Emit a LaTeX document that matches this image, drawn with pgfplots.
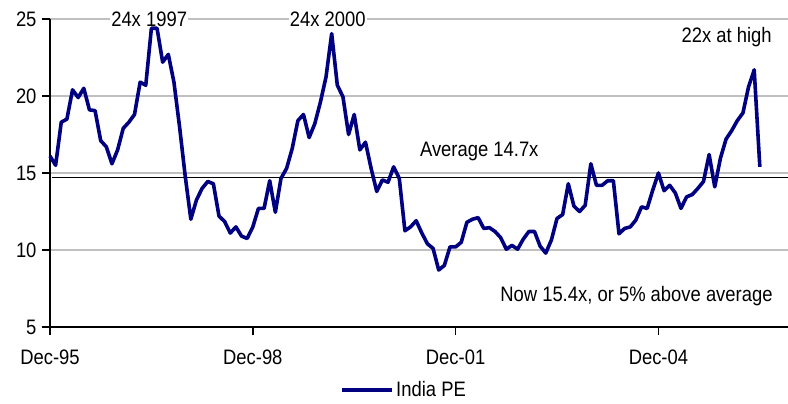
\documentclass[border=0pt]{standalone}
\usepackage{fontspec}
\setmainfont{Liberation Sans}[FakeStretch=0.88]
\usepackage{pgfplots}
\pgfplotsset{compat=1.18}
\definecolor{pecolor}{HTML}{000080}
\definecolor{gridgray}{HTML}{C0C0C0}
\newcommand{\chartfont}{\fontsize{21}{25}\selectfont}

% Monthly India price/earnings ratio, month 0 = Dec-95
\pgfplotstableread{
m pe
0 16.1
1 15.5
2 18.3
3 18.5
4 20.4
5 19.9
6 20.5
7 19.1
8 19.05
9 17.1
10 16.7
11 15.6
12 16.5
13 17.9
14 18.3
15 18.8
16 20.9
17 20.7
18 24.4
19 24.4
20 22.2
21 22.7
22 20.9
23 18.0
24 14.8
25 12.0
26 13.25
27 14.0
28 14.45
29 14.3
30 12.2
31 11.85
32 11.1
33 11.5
34 10.9
35 10.75
36 11.5
37 12.7
38 12.7
39 14.5
40 12.45
41 14.65
42 15.3
43 16.6
44 18.4
45 18.8
46 17.3
47 18.2
48 19.6
49 21.25
50 24.05
51 20.7
52 19.95
53 17.5
54 18.8
55 16.5
56 17.0
57 15.3
58 13.8
59 14.55
60 14.4
61 15.4
62 14.65
63 11.25
64 11.5
65 11.9
66 11.1
67 10.4
68 10.1
69 8.7
70 9.0
71 10.2
72 10.2
73 10.5
74 11.8
75 12.0
76 12.1
77 11.4
78 11.45
79 11.2
80 10.8
81 10.05
82 10.3
83 10.05
84 10.7
85 11.2
86 11.2
87 10.25
88 9.8
89 10.65
90 12.05
91 12.3
92 14.3
93 12.85
94 12.5
95 12.9
96 15.6
97 14.2
98 14.2
99 14.5
100 14.5
101 11.05
102 11.4
103 11.5
104 11.95
105 12.8
106 12.7
107 13.9
108 15.0
109 13.85
110 14.2
111 13.7
112 12.7
113 13.45
114 13.6
115 14.0
116 14.45
117 16.2
118 14.1
119 15.95
120 17.2
121 17.75
122 18.4
123 18.9
124 20.6
125 21.7
126 15.4
}\pedata

\begin{document}
\begin{tikzpicture}
\begin{axis}[
  name=ax,
  scale only axis,
  width=738bp, height=308bp,
  xmin=0, xmax=131,
  ymin=5, ymax=25,
  axis x line=bottom, axis y line=left,
  axis line style={-, black, line width=1.4bp},
  xtick={0,36,72,108},
  xticklabels={Dec-95,Dec-98,Dec-01,Dec-04},
  ytick={5,10,15,20,25},
  tick align=outside,
  major tick length=8bp,
  tick style={black, line width=1.4bp},
  ymajorgrids,
  major grid style={gridgray, line width=1.5bp},
  /pgf/number format/assume math mode=true,
  tick label style={font=\chartfont},
  yticklabel style={anchor=east, xshift=-2bp},
  xticklabel style={anchor=north, yshift=-11bp},
  clip=false,
  legend style={draw=none, fill=none, at={(0.48,-0.2045)}, anchor=center,
    font=\chartfont},
  legend image code/.code={\draw[#1] (0bp,0bp) -- (50bp,0bp);},
]
% peak labels sit on white patches over the gridline, beneath the series
\node[font=\chartfont, anchor=base, fill=white, inner sep=1bp] at (axis cs:17.6,24.5) {24x 1997};
\node[font=\chartfont, anchor=base, fill=white, inner sep=1bp] at (axis cs:49.3,24.5) {24x 2000};
% long-run average
\draw[black, line width=1bp] (axis cs:0.3,14.7) -- (axis cs:131,14.7);
\addplot[pecolor, line width=3.6bp, line join=round] table[x=m, y=pe] {\pedata};
\addlegendentry{India PE}
\node[font=\chartfont, anchor=base] at (axis cs:120.1,23.46) {22x at high};
\node[font=\chartfont, anchor=base] at (axis cs:76.2,16.06) {Average 14.7x};
\node[font=\chartfont, anchor=base] at (axis cs:104.1,6.64) {Now 15.4x, or 5\% above average};
\end{axis}
\pgfresetboundingbox
\path ([xshift=-50bp,yshift=-77bp]ax.south west) rectangle ([yshift=19bp]ax.north east);
\end{tikzpicture}
\end{document}
